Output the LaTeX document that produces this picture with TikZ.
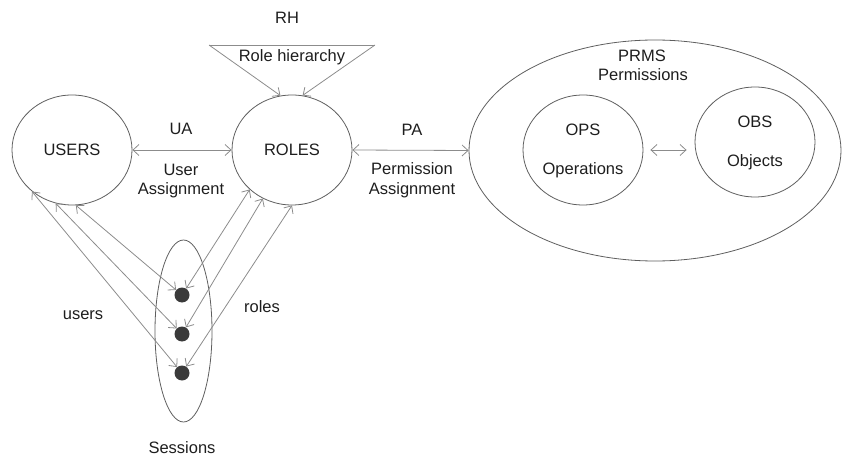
\documentclass[tikz,border=0pt]{standalone}
\usepackage{fontspec}
\setmainfont{Liberation Sans}
\usetikzlibrary{shapes.geometric,arrows.meta}
\definecolor{linegray}{HTML}{8C8C8C}
\definecolor{rimgray}{HTML}{5E5E5E}
\definecolor{dotgray}{HTML}{3A3A3A}
\definecolor{inkgray}{HTML}{1E1E1E}
\begin{document}
\begin{tikzpicture}[x=1pt,y=-1pt,
  every node/.style={text=inkgray,font=\fontsize{16.5}{19.5}\selectfont},
  setnode/.style={ellipse,draw=rimgray,line width=0.8pt,inner sep=0pt,
    minimum width=120pt,minimum height=110pt},
  token/.style={circle,fill=dotgray,inner sep=0pt,minimum size=15pt},
  lbl/.style={align=center,inner sep=0pt},
  link/.style={draw=linegray,line width=0.8pt,
    arrows={Straight Barb[length=6pt,width=11pt]-Straight Barb[length=6pt,width=11pt]}},
  oneway/.style={draw=linegray,line width=0.8pt,
    -{Straight Barb[length=6pt,width=11pt]}}]
\useasboundingbox (0,0) rectangle (843,457);

% core sets
\node[setnode] (users) at (72,150) {USERS};
\node[setnode] (roles) at (292,150) {ROLES};
\node[ellipse,draw=rimgray,line width=0.8pt,inner sep=0pt,
  minimum width=372pt,minimum height=221pt] (prms) at (655,150.5) {};
\node[setnode] (ops) at (583,150) {};
\node[setnode] (obs) at (755,142) {};
\node[lbl] (opsname) at (583,130) {OPS};
\node[lbl] (opstext) at (583,170) {Operations};
\node[lbl] (obsname) at (755,122) {OBS};
\node[lbl] (obstext) at (755,162) {Objects};
\node[lbl] (prmsname) at (642,56) {PRMS};
\node[lbl] (prmstext) at (643,75) {Permissions};

% sessions
\node[ellipse,draw=rimgray,line width=0.8pt,inner sep=0pt,
  minimum width=57pt,minimum height=182pt] (sessions) at (183.5,331) {};
\node[token] (s1) at (182,295) {};
\node[token] (s2) at (182,334) {};
\node[token] (s3) at (182,373) {};
\node[lbl] (sesslbl) at (182,448) {Sessions};
\node[lbl] (userslbl) at (83,315) {users};
\node[lbl] (roleslbl) at (262,307) {roles};

% assignments
\draw[link] (users.east) -- (roles.west);
\node[lbl] (ua) at (181,129) {UA};
\node[lbl] (uatext) at (181,181) {User\\Assignment};
\draw[link] (roles.east) -- (prms.west);
\node[lbl] (pa) at (412,130) {PA};
\node[lbl] (patext) at (412,180) {Permission\\Assignment};
\draw[link] ([xshift=7pt]ops.east) -- ([xshift=-8pt]obs.west |- ops.east);

% role hierarchy
\node[lbl] (rh) at (287,18) {RH};
\coordinate (rhl) at (209,45);
\coordinate (rhr) at (375,45);
\node[lbl] (rhtext) at (292,57) {Role hierarchy};
\draw[draw=linegray,line width=0.8pt] (rhl) -- (rhr);
\draw[oneway] (rhl) -- (roles.102);
\draw[oneway] (rhr) -- (roles.79);

% session links
\draw[link] (users.-86) -- (s1);
\draw[link] (users.-107) -- (s2);
\draw[link] (users.-134) -- (s3);
\draw[link] (roles.-137) -- (s1);
\draw[link] (roles.-121) -- (s2);
\draw[link] (roles.-90) -- (s3);
\end{tikzpicture}
\end{document}
